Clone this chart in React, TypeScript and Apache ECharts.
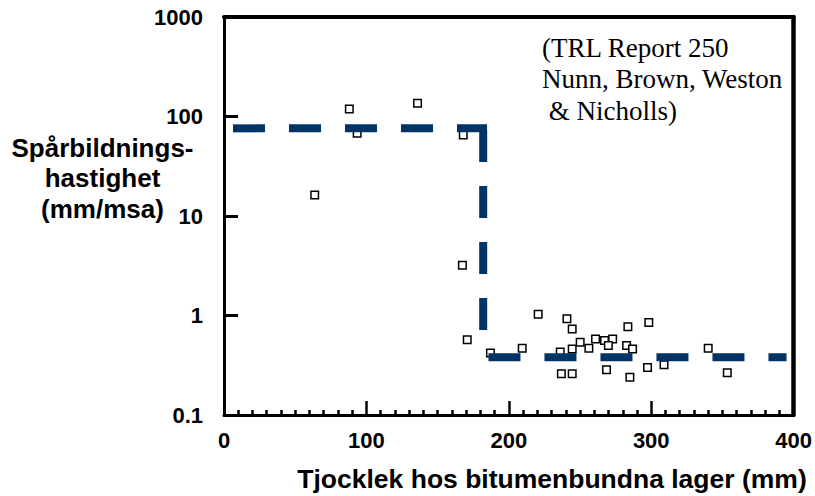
import React, { useEffect, useRef } from "react";
import * as echarts from "echarts";

// Scatter data: thickness of bituminous layers (mm) vs rutting rate (mm/msa)
const thicknessMm = [
  63.7, 88.0, 135.9, 93.5, 168.0, 167.4, 170.8, 187.1, 209.4, 220.6, 240.8,
  244.5, 236.1, 244.5, 250.1, 256.2, 260.9, 267.2, 272.9, 269.9, 283.6, 282.7,
  286.9, 298.3, 236.9, 244.5, 268.6, 285.0, 297.4, 309.0, 340.0, 353.4,
];
const rutRate = [
  16.3, 119, 136, 68, 65, 3.2, 0.57, 0.42, 0.47, 1.03, 0.93, 0.73, 0.43, 0.46,
  0.54, 0.47, 0.58, 0.56, 0.58, 0.5, 0.77, 0.5, 0.46, 0.85, 0.26, 0.26, 0.285,
  0.24, 0.3, 0.32, 0.47, 0.266,
];

// Step line (dashed)
const upperStepX = [6.3, 184.7];
const upperStepY = [76, 76];
const dropX = [182, 182];
const dropY = [73, 0.715];
const lowerStepX = [185.7, 395];
const lowerStepY = [0.38, 0.38];

const xTickValues = [0, 100, 200, 300, 400];
const yTickValues = [0.1, 1, 10, 100, 1000];

const yTitle = "Spårbildnings-\nhastighet\n(mm/msa)";
const xTitle = "Tjocklek hos bitumenbundna lager (mm)";
const sourceNote = "(TRL Report 250\nNunn, Brown, Weston\n & Nicholls)";

const SANS = "'Liberation Sans', Arial, sans-serif";
const SERIF = "'Liberation Serif', 'Times New Roman', serif";
const NAVY = "#003366";

function zip(xs: number[], ys: number[]) {
  return xs.map((x, i) => [x, ys[i]]);
}

export default function App() {
  const ref = useRef<HTMLDivElement>(null);
  useEffect(() => {
    document.body.style.margin = "0";
    if (!ref.current) return;
    const chart = echarts.init(ref.current, undefined, { renderer: "svg" });
    const dashLine = {
      color: NAVY,
      width: 8,
      type: [32, 24] as number[],
      cap: "butt" as const,
    };
    chart.setOption({
      animation: false,
      backgroundColor: "#fff",
      grid: { left: 224, right: 18, top: 17, bottom: 81, containLabel: false },
      xAxis: [
        {
          type: "value",
          min: xTickValues[0],
          max: xTickValues[xTickValues.length - 1],
          interval: 100,
          position: "bottom",
          axisLine: { onZero: false, lineStyle: { color: "#000", width: 3 } },
          axisTick: { inside: true, length: 14, lineStyle: { color: "#000", width: 2.5 } },
          minorTick: { show: true, splitNumber: 10, length: 5, lineStyle: { color: "#000", width: 2.5 } },
          splitLine: { show: false },
          axisLabel: {
            fontSize: 22,
            fontWeight: "bold",
            fontFamily: SANS,
            color: "#000",
            margin: 14,
          },
        },
        {
          type: "value",
          min: xTickValues[0],
          max: xTickValues[xTickValues.length - 1],
          position: "top",
          axisLine: { onZero: false, lineStyle: { color: "#000", width: 4 } },
          axisTick: { show: false },
          axisLabel: { show: false },
          splitLine: { show: false },
        },
      ],
      yAxis: [
        {
          type: "log",
          logBase: 10,
          min: yTickValues[0],
          max: yTickValues[yTickValues.length - 1],
          position: "left",
          axisLine: { onZero: false, lineStyle: { color: "#000", width: 3 } },
          axisTick: { inside: true, length: 14, lineStyle: { color: "#000", width: 3 } },
          splitLine: { show: false },
          axisLabel: {
            fontSize: 22,
            fontWeight: "bold",
            fontFamily: SANS,
            color: "#000",
            margin: 21,
            formatter: (v: number) => String(v),
          },
        },
        {
          type: "log",
          logBase: 10,
          min: yTickValues[0],
          max: yTickValues[yTickValues.length - 1],
          position: "right",
          axisLine: { onZero: false, lineStyle: { color: "#000", width: 4.5 } },
          axisTick: { show: false },
          axisLabel: { show: false },
          splitLine: { show: false },
        },
      ],
      series: [
        {
          type: "scatter",
          data: zip(thicknessMm, rutRate),
          symbol: "rect",
          symbolSize: 7.5,
          itemStyle: { color: "#fff", borderColor: "#000", borderWidth: 1.5, opacity: 1 },
          z: 2,
        },
        {
          type: "line",
          data: zip(upperStepX, upperStepY),
          showSymbol: false,
          symbol: "none",
          lineStyle: dashLine,
          z: 3,
        },
        {
          type: "line",
          data: zip(dropX, dropY),
          showSymbol: false,
          symbol: "none",
          lineStyle: dashLine,
          z: 3,
        },
        {
          type: "line",
          data: zip(lowerStepX, lowerStepY),
          showSymbol: false,
          symbol: "none",
          lineStyle: dashLine,
          z: 3,
        },
      ],
      graphic: [
        {
          type: "text",
          x: 102.5,
          y: 178,
          style: {
            text: yTitle,
            fontSize: 26,
            fontWeight: "bold",
            fontFamily: SANS,
            fill: "#000",
            align: "center",
            verticalAlign: "middle",
            lineHeight: 30.5,
          },
        },
        {
          type: "text",
          x: 552,
          y: 479,
          style: {
            text: xTitle,
            fontSize: 26.5,
            fontWeight: "bold",
            fontFamily: SANS,
            fill: "#000",
            align: "center",
            verticalAlign: "middle",
          },
        },
        {
          type: "text",
          x: 542,
          y: 79,
          style: {
            text: sourceNote,
            fontSize: 27,
            fontFamily: SERIF,
            fill: "#000",
            align: "left",
            verticalAlign: "middle",
            lineHeight: 31.5,
          },
        },
      ],
    });
    return () => chart.dispose();
  }, []);
  return <div ref={ref} style={{ width: 815, height: 496 }} />;
}
